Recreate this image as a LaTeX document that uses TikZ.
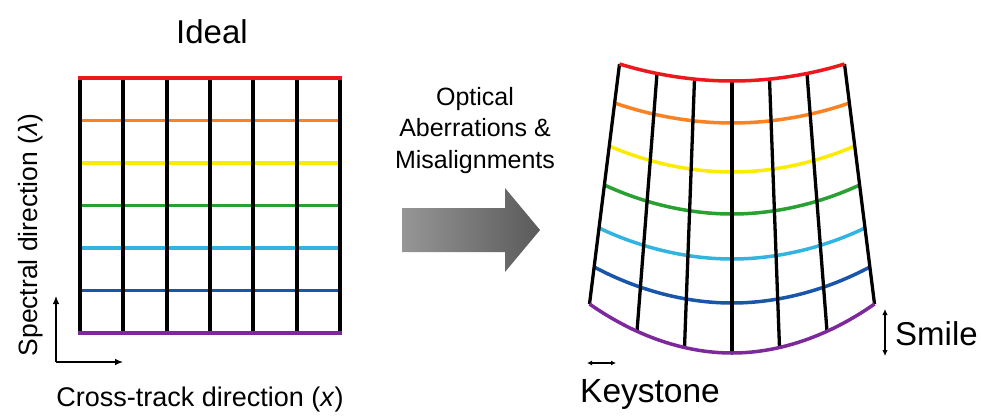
\documentclass[tikz,border=0pt]{standalone}
\usepackage{fontspec}
\setmainfont{Liberation Sans}
\usetikzlibrary{arrows.meta}
\definecolor{cRed}{RGB}{235,25,30}
\definecolor{cOrange}{RGB}{250,130,35}
\definecolor{cYellow}{RGB}{250,235,0}
\definecolor{cGreen}{RGB}{40,160,50}
\definecolor{cCyan}{RGB}{50,180,225}
\definecolor{cBlue}{RGB}{25,85,170}
\definecolor{cPurple}{RGB}{125,40,155}
\definecolor{arrL}{RGB}{150,150,150}
\definecolor{arrR}{RGB}{90,90,90}
\tikzset{
  lbl/.style={inner sep=0pt, text=black},
  gridline/.style={line width=4pt},
  colline/.style={line width=3.5pt},
  axarrow/.style={line width=1.1pt, -{Latex[length=8pt,width=6.5pt]}},
}
\begin{document}
\begin{tikzpicture}[x=1pt,y=-1pt]
\useasboundingbox (0,0) rectangle (981,415);
% ---------- left ideal grid ----------
\foreach \y/\c in {120.5/cOrange,163/cYellow,205.5/cGreen,248/cCyan,290.5/cBlue}
  \draw[colline,\c] (78,\y) -- (342,\y);
\foreach \i in {0,...,6}
  \draw[gridline] ({80+\i*260/6},78) -- ({80+\i*260/6},333);
\draw[colline,cRed] (78,78) -- (342,78);
\draw[colline,cPurple] (78,333) -- (342,333);
% axes
\coordinate (o) at (56,362);
\coordinate (oy) at (56,296);
\coordinate (ox) at (123,362);
\draw[axarrow] (o) -- (oy);
\draw[axarrow] (o) -- (ox);
\node[lbl, font=\fontsize{33}{35}\selectfont, anchor=base] (ideal) at (212,43) {Ideal};
\node[lbl, font=\fontsize{27}{29}\selectfont, anchor=base] (xlab) at (200,406) {Cross-track direction (\textit{x})};
\node[lbl, font=\fontsize{26.5}{28}\selectfont, rotate=90, anchor=base] (ylab) at (37,235) {Spectral direction (\textit{λ})};
% ---------- middle arrow ----------
\shade[left color=arrL, right color=arrR] (402,208) -- (505,208) -- (505,188) -- (540,230) -- (505,272) -- (505,252) -- (402,252) -- cycle;
\node[lbl, font=\fontsize{25}{31.5}\selectfont, align=center, anchor=base] (opt) at (475,168) {Optical\\Aberrations \&\\Misalignments};
% ---------- right distorted grid ----------
\foreach \y/\s/\c in {103/20/cOrange,146/26/cYellow,185/29/cGreen,228/31/cCyan,267/36/cBlue} {
  \pgfmathsetmacro\xl{619.5-30*(\y-64)/240}
  \pgfmathsetmacro\xr{1464-\xl}
  \draw[colline,\c] (\xl,\y) parabola bend ({732},{\y+\s}) (\xr,\y);
}
\foreach \i in {0,...,6} {
  \pgfmathsetmacro\u{(\i-3)/3}
  \draw[line width=3.3pt] ({732+112.5*\u},{64+17*(1-\u*\u)}) -- ({732+142.5*\u},{304+49*(1-\u*\u)});
}
\draw[colline,cRed] (619.5,64) parabola bend (732,81) (844.5,64);
\draw[colline,cPurple] (589.5,304) parabola bend (732,353) (874.5,304);
% smile and keystone
\coordinate (s1) at (885,309);
\coordinate (s2) at (885,356);
\draw[line width=1.1pt, {Latex[length=6pt,width=5.5pt]}-{Latex[length=6pt,width=5.5pt]}] (s1) -- (s2);
\coordinate (k1) at (587,363);
\coordinate (k2) at (616,363);
\draw[line width=1.1pt, {Latex[length=5pt,width=5pt]}-{Latex[length=5pt,width=5pt]}] (k1) -- (k2);
\node[lbl, font=\fontsize{33}{35}\selectfont, anchor=base west] (smile) at (895,345) {Smile};
\node[lbl, font=\fontsize{33.5}{35}\selectfont, anchor=base west] (key) at (580,402) {Keystone};
\end{tikzpicture}
\end{document}
